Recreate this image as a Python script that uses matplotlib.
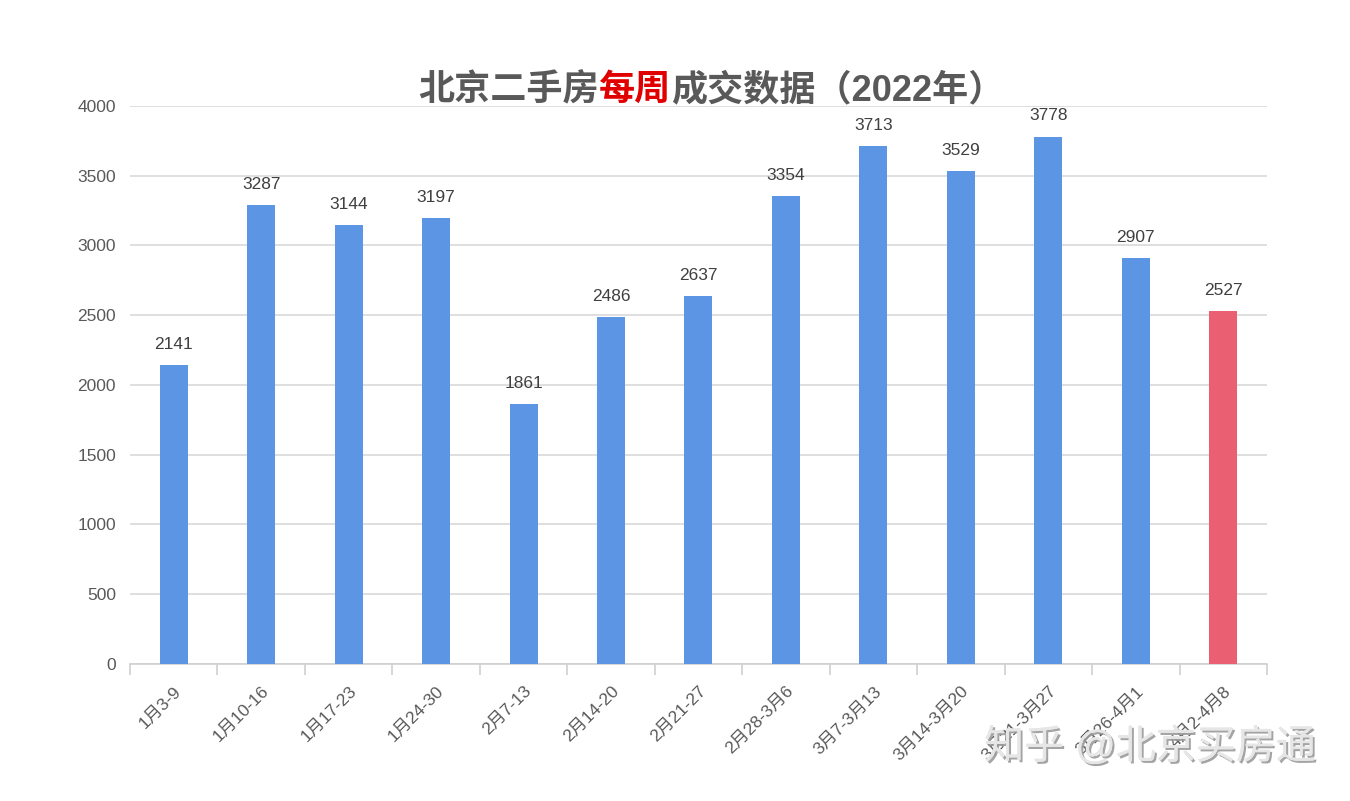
import matplotlib.pyplot as plt
import matplotlib.patheffects as pe
import numpy as np

plt.rcParams['font.family'] = ['Liberation Sans', 'Noto Sans CJK SC', 'DejaVu Sans']

# 每周成交数据
weeks = ["1月3-9", "1月10-16", "1月17-23", "1月24-30", "2月7-13", "2月14-20",
         "2月21-27", "2月28-3月6", "3月7-3月13", "3月14-3月20", "3月21-3月27",
         "3月26-4月1", "4月2-4月8"]
deals = [2141, 3287, 3144, 3197, 1861, 2486, 2637, 3354, 3713, 3529, 3778, 2907, 2527]
colors = ["#5B95E4"] * 12 + ["#EB5F73"]

fig = plt.figure(figsize=(13.5, 8.01), dpi=100)
ax = fig.add_axes([0.0963, 0.171, 0.8422, 0.697])

x = np.arange(len(weeks))
ax.bar(x, deals, width=0.32, color=colors, zorder=3)
for xi, v in zip(x, deals):
    ax.text(xi, v + 95, str(v), ha="center", va="bottom", fontsize=12.5, color="#404040")

ax.set_xlim(-0.5, len(weeks) - 0.5)
ax.set_ylim(0, 4000)
ax.set_yticks(range(0, 4001, 500))
ax.yaxis.grid(True, color="#d9d9d9", linewidth=1.2, zorder=0)
ax.tick_params(axis="y", length=0, labelsize=12.5, labelcolor="#595959", pad=10)

# 类别边界刻度
ax.set_xticks(np.arange(-0.5, len(weeks), 1))
ax.set_xticklabels([])
ax.set_xticks(x, minor=True)
ax.set_xticklabels(weeks, minor=True, rotation=45, ha="right", rotation_mode="anchor",
                   fontsize=12.5, color="#595959")
ax.tick_params(axis="x", which="major", length=8, color="#d0d0d0", width=1.2)
ax.tick_params(axis="x", which="minor", length=0, pad=14)

for s in ["top", "right", "left"]:
    ax.spines[s].set_visible(False)
ax.spines["bottom"].set_color("#d0d0d0")
ax.spines["bottom"].set_linewidth(1.2)

# 标题（分段着色）
t1 = fig.text(418 / 1350, 1 - 100 / 801, "北京二手房", fontsize=26, fontweight="bold",
              color="#595959", ha="left", va="baseline")
t2 = ax.annotate("每周", xy=(1, 0), xycoords=t1, va="bottom", fontsize=26,
                 fontweight="bold", color="#E00000")
t3 = ax.annotate("成交数据（2022年）", xy=(1, 0), xycoords=t2, va="bottom",
                 fontsize=26, fontweight="bold", color="#595959")

# 水印
fig.text(0.729, 0.043, "知乎 @北京买房通", fontsize=28.8, color="#e6e6e6", ha="left",
         va="bottom", path_effects=[pe.withSimplePatchShadow(offset=(1.5, -1.5),
                                                              shadow_rgbFace="#9a9a9a", alpha=0.9),
                                    pe.Normal()])

fig.savefig("out.png", dpi=100)
